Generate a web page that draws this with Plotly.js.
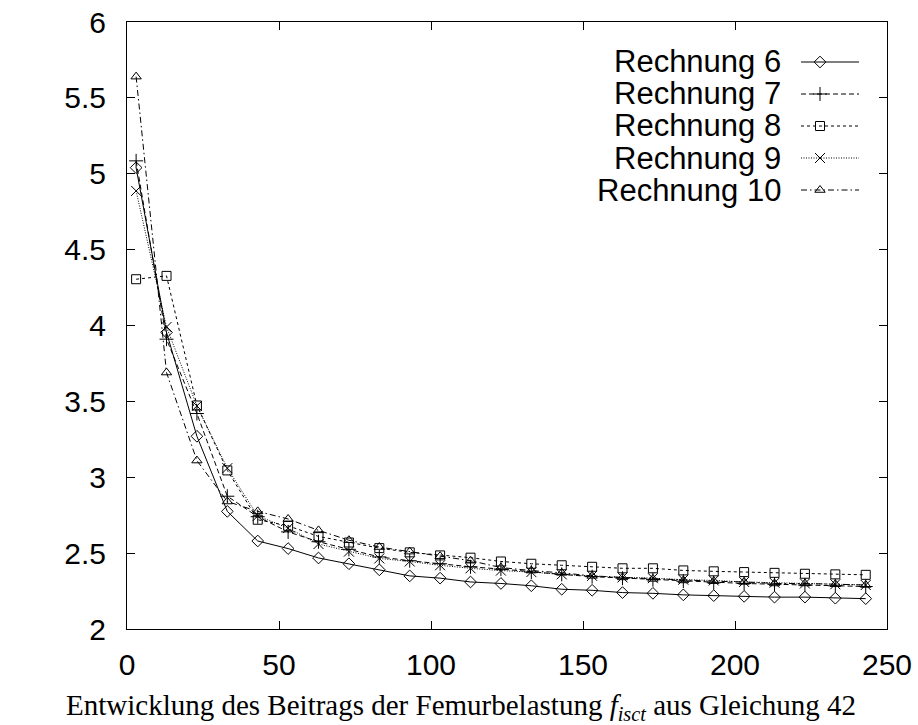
<!DOCTYPE html>
<html>
<head>
<meta charset="utf-8">
<script src="https://cdn.plot.ly/plotly-3.0.1.min.js"></script>
<style>html,body{margin:0;padding:0;background:#fff;}#chart{width:918px;height:725px;}</style>
</head>
<body>
<div id="chart"></div>
<script>
const xValues = [3, 13, 23, 33, 43, 53, 63, 73, 83, 93, 103, 113, 123, 133, 143, 153, 163, 173, 183, 193, 203, 213, 223, 233, 243];
const rechnung6 = [5.04, 3.955, 3.27, 2.775, 2.58, 2.53, 2.468, 2.43, 2.39, 2.35, 2.335, 2.31, 2.30, 2.285, 2.262, 2.255, 2.24, 2.235, 2.225, 2.22, 2.215, 2.21, 2.21, 2.203, 2.20];
const rechnung7 = [5.085, 3.91, 3.42, 2.875, 2.74, 2.64, 2.575, 2.525, 2.475, 2.45, 2.43, 2.41, 2.395, 2.375, 2.36, 2.345, 2.335, 2.325, 2.315, 2.305, 2.30, 2.295, 2.29, 2.285, 2.28];
const rechnung8 = [4.305, 4.327, 3.473, 3.045, 2.72, 2.68, 2.61, 2.57, 2.533, 2.505, 2.485, 2.47, 2.445, 2.43, 2.42, 2.41, 2.40, 2.40, 2.386, 2.38, 2.375, 2.37, 2.364, 2.36, 2.357];
const rechnung9 = [4.887, 3.99, 3.47, 3.06, 2.745, 2.665, 2.56, 2.51, 2.465, 2.445, 2.42, 2.40, 2.385, 2.375, 2.36, 2.35, 2.34, 2.335, 2.325, 2.32, 2.31, 2.305, 2.30, 2.295, 2.29];
const rechnung10 = [5.64, 3.69, 3.11, 2.84, 2.775, 2.725, 2.65, 2.585, 2.54, 2.51, 2.48, 2.45, 2.405, 2.385, 2.37, 2.35, 2.34, 2.33, 2.32, 2.315, 2.31, 2.30, 2.30, 2.295, 2.29];
const seriesNames = ["Rechnung 6", "Rechnung 7", "Rechnung 8", "Rechnung 9", "Rechnung 10"];
const xTickVals = [0, 50, 100, 150, 200, 250];
const yTickVals = [2, 2.5, 3, 3.5, 4, 4.5, 5, 5.5, 6];
const captionText = "Entwicklung des Beitrags der Femurbelastung <i>f<sub>isct</sub></i> aus Gleichung 42";

const seriesData = [rechnung6, rechnung7, rechnung8, rechnung9, rechnung10];
const styles = [
  {dash: "solid", symbol: "diamond-open", size: 9},
  {dash: "5px,3px", symbol: "cross-thin-open", size: 10},
  {dash: "3px,3px", symbol: "square-open", size: 9},
  {dash: "1px,1.5px", symbol: "x-thin-open", size: 10},
  {dash: "6px,3px,1.5px,3px", symbol: "triangle-up-open", size: 9}
];

const traces = [];
seriesData.forEach((ys, i) => {
  traces.push({
    x: xValues, y: ys, type: "scatter", mode: "lines+markers", name: seriesNames[i],
    showlegend: false, hoverinfo: "skip",
    line: {color: "#000", width: 1, dash: styles[i].dash},
    marker: {symbol: styles[i].symbol, size: styles[i].size, color: "#000", line: {color: "#000", width: 1}}
  });
});

// manual gnuplot-style legend (text right, sample at right)
const plotL = 127, plotR = 887, plotT = 22, plotB = 629;
const px2x = p => (p - plotL) / (plotR - plotL);
const px2y = p => (plotB - p) / (plotB - plotT);
const rowY = [62, 94, 126, 158, 190];
const annotations = [];
seriesNames.forEach((nm, i) => {
  const yy = px2y(rowY[i]);
  traces.push({
    x: [px2x(801), px2x(859)], y: [yy, yy], xaxis: "x2", yaxis: "y2", type: "scatter", mode: "lines",
    showlegend: false, hoverinfo: "skip", line: {color: "#000", width: 1, dash: styles[i].dash}
  });
  traces.push({
    x: [px2x(820)], y: [yy], xaxis: "x2", yaxis: "y2", type: "scatter", mode: "markers",
    showlegend: false, hoverinfo: "skip",
    marker: {symbol: styles[i].symbol, size: styles[i].size, color: "#000", line: {color: "#000", width: 1}}
  });
  annotations.push({
    xref: "paper", yref: "paper", x: px2x(783), y: yy, xanchor: "right", yanchor: "middle",
    text: nm, showarrow: false, font: {family: "Liberation Sans, Arial, sans-serif", size: 31, color: "#000"}
  });
});
annotations.push({
  xref: "paper", yref: "paper", x: px2x(461), y: px2y(707), xanchor: "center", yanchor: "middle",
  text: captionText, showarrow: false, font: {family: "Liberation Serif, Times New Roman, serif", size: 29, color: "#000"}
});

const axisCommon = {
  showgrid: false, zeroline: false, showline: true, linecolor: "#000", linewidth: 1,
  mirror: "ticks", ticks: "inside", ticklen: 8, tickwidth: 1, tickcolor: "#000",
  tickfont: {family: "Liberation Sans, Arial, sans-serif", size: 30, color: "#000"}
};

const layout = {
  width: 918, height: 725,
  margin: {l: plotL, r: 918 - plotR, t: plotT, b: 725 - plotB},
  paper_bgcolor: "#fff", plot_bgcolor: "#fff",
  showlegend: false,
  xaxis: Object.assign({}, axisCommon, {range: [0, 250], tickvals: xTickVals, ticktext: xTickVals.map(String), ticklabelstandoff: 9}),
  yaxis: Object.assign({}, axisCommon, {range: [2, 6], tickvals: yTickVals, ticktext: yTickVals.map(String), ticklabelstandoff: 14}),
  xaxis2: {overlaying: "x", range: [0, 1], visible: false, fixedrange: true},
  yaxis2: {overlaying: "y", range: [0, 1], visible: false, fixedrange: true},
  annotations: annotations
};

Plotly.newPlot("chart", traces, layout, {displayModeBar: false, staticPlot: true});
</script>
</body>
</html>
